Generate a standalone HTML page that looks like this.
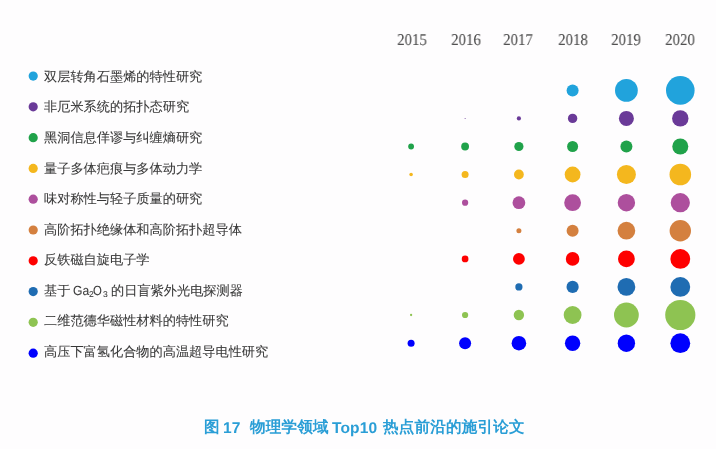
<!DOCTYPE html>
<html><head><meta charset="utf-8">
<style>
html,body{margin:0;padding:0;background:#fefdfe;}
.lab,.yr,.title{will-change:transform;}
body{width:716px;height:449px;position:relative;overflow:hidden;text-rendering:geometricPrecision;font-family:"Liberation Sans",sans-serif;}
svg{position:absolute;left:0;top:0;}
.lab{position:absolute;left:44.4px;height:20px;line-height:20px;font-size:13.2px;color:#383838;-webkit-text-stroke:0.08px #383838;white-space:nowrap;}
.sx{display:inline-block;transform-origin:0 0;}
.lab.sb{font-size:8.5px;}
.yr{position:absolute;top:29.5px;width:60px;text-align:center;font-family:"Liberation Serif",serif;font-size:16.5px;color:#505050;-webkit-text-stroke:0.1px #505050;line-height:20px;transform:scaleX(0.9);}
.title{position:absolute;left:203.8px;top:418.3px;font-size:15.55px;font-weight:bold;letter-spacing:0.2px;color:#2a9ed6;white-space:nowrap;line-height:20px;}
.title.l{letter-spacing:0.1px;font-weight:bold;top:419px;}
</style></head><body>
<svg width="716" height="449" viewBox="0 0 716 449"><circle cx="33.2" cy="76.05" r="4.6" fill="#21a3dc"/><circle cx="33.2" cy="106.84" r="4.6" fill="#6a3a98"/><circle cx="33.2" cy="137.63" r="4.6" fill="#20a24a"/><circle cx="33.2" cy="168.42" r="4.6" fill="#f4b71e"/><circle cx="33.2" cy="199.21" r="4.6" fill="#ad4f9d"/><circle cx="33.2" cy="230.00" r="4.6" fill="#d4803f"/><circle cx="33.2" cy="260.79" r="4.6" fill="#fe0000"/><circle cx="33.2" cy="291.58" r="4.6" fill="#1f6cb2"/><circle cx="33.2" cy="322.37" r="4.6" fill="#8ec352"/><circle cx="33.2" cy="353.16" r="4.6" fill="#0000fe"/><circle cx="572.6" cy="90.4" r="6.0" fill="#21a3dc"/><circle cx="626.4" cy="90.4" r="11.4" fill="#21a3dc"/><circle cx="680.3" cy="90.4" r="14.3" fill="#21a3dc"/><circle cx="465.1" cy="118.4" r="0.5" fill="#6a3a98"/><circle cx="518.9" cy="118.4" r="2.1" fill="#6a3a98"/><circle cx="572.6" cy="118.4" r="4.7" fill="#6a3a98"/><circle cx="626.4" cy="118.4" r="7.5" fill="#6a3a98"/><circle cx="680.3" cy="118.4" r="8.2" fill="#6a3a98"/><circle cx="411.1" cy="146.5" r="2.9" fill="#20a24a"/><circle cx="465.1" cy="146.5" r="3.9" fill="#20a24a"/><circle cx="518.9" cy="146.5" r="4.6" fill="#20a24a"/><circle cx="572.6" cy="146.5" r="5.5" fill="#20a24a"/><circle cx="626.4" cy="146.5" r="6.0" fill="#20a24a"/><circle cx="680.3" cy="146.5" r="8.0" fill="#20a24a"/><circle cx="411.1" cy="174.5" r="1.8" fill="#f4b71e"/><circle cx="465.1" cy="174.5" r="3.5" fill="#f4b71e"/><circle cx="518.9" cy="174.5" r="4.9" fill="#f4b71e"/><circle cx="572.6" cy="174.5" r="7.9" fill="#f4b71e"/><circle cx="626.4" cy="174.5" r="9.5" fill="#f4b71e"/><circle cx="680.3" cy="174.5" r="10.8" fill="#f4b71e"/><circle cx="465.1" cy="202.7" r="3.1" fill="#ad4f9d"/><circle cx="518.9" cy="202.7" r="6.4" fill="#ad4f9d"/><circle cx="572.6" cy="202.7" r="8.4" fill="#ad4f9d"/><circle cx="626.4" cy="202.7" r="8.7" fill="#ad4f9d"/><circle cx="680.3" cy="202.7" r="9.6" fill="#ad4f9d"/><circle cx="518.9" cy="230.7" r="2.5" fill="#d4803f"/><circle cx="572.6" cy="230.7" r="6.0" fill="#d4803f"/><circle cx="626.4" cy="230.7" r="8.85" fill="#d4803f"/><circle cx="680.3" cy="230.7" r="10.7" fill="#d4803f"/><circle cx="465.1" cy="258.9" r="3.35" fill="#fe0000"/><circle cx="518.9" cy="258.9" r="5.9" fill="#fe0000"/><circle cx="572.6" cy="258.9" r="6.8" fill="#fe0000"/><circle cx="626.4" cy="258.9" r="8.4" fill="#fe0000"/><circle cx="680.3" cy="258.9" r="9.9" fill="#fe0000"/><circle cx="518.9" cy="286.9" r="3.6" fill="#1f6cb2"/><circle cx="572.6" cy="286.9" r="6.1" fill="#1f6cb2"/><circle cx="626.4" cy="286.9" r="8.9" fill="#1f6cb2"/><circle cx="680.3" cy="286.9" r="9.9" fill="#1f6cb2"/><circle cx="411.1" cy="315.0" r="1.15" fill="#8ec352"/><circle cx="465.1" cy="315.0" r="3.1" fill="#8ec352"/><circle cx="518.9" cy="315.0" r="5.2" fill="#8ec352"/><circle cx="572.6" cy="315.0" r="8.9" fill="#8ec352"/><circle cx="626.4" cy="315.0" r="12.4" fill="#8ec352"/><circle cx="680.3" cy="315.0" r="15.1" fill="#8ec352"/><circle cx="411.1" cy="343.2" r="3.5" fill="#0000fe"/><circle cx="465.1" cy="343.2" r="6.0" fill="#0000fe"/><circle cx="518.9" cy="343.2" r="7.3" fill="#0000fe"/><circle cx="572.6" cy="343.2" r="7.7" fill="#0000fe"/><circle cx="626.4" cy="343.2" r="8.7" fill="#0000fe"/><circle cx="680.3" cy="343.2" r="9.9" fill="#0000fe"/></svg>
<div class="lab" style="top:66.85px">双层转角石墨烯的特性研究</div><div class="lab" style="top:97.41px">非厄米系统的拓扑态研究</div><div class="lab" style="top:127.97px">黑洞信息佯谬与纠缠熵研究</div><div class="lab" style="top:158.53px">量子多体疤痕与多体动力学</div><div class="lab" style="top:189.09px">味对称性与轻子质量的研究</div><div class="lab" style="top:219.65px">高阶拓扑绝缘体和高阶拓扑超导体</div><div class="lab" style="top:250.21px">反铁磁自旋电子学</div><div class="lab" style="top:280.77px">基于</div><div class="lab" style="top:311.33px">二维范德华磁性材料的特性研究</div><div class="lab" style="top:341.89px">高压下富氢化合物的高温超导电性研究</div>
<div class="yr" style="left:382.10px">2015</div><div class="yr" style="left:435.80px">2016</div><div class="yr" style="left:488.45px">2017</div><div class="yr" style="left:542.70px">2018</div><div class="yr" style="left:595.75px">2019</div><div class="yr" style="left:649.75px">2020</div>
<div class="lab" style="top:280.77px;left:73.3px"><span class="sx" style="transform:scaleX(0.92)">Ga</span></div><div class="lab sb" style="top:284.47px;left:88.8px">2</div><div class="lab" style="top:280.77px;left:92.6px"><span class="sx" style="transform:scaleX(0.86)">O</span></div><div class="lab sb" style="top:284.47px;left:102.9px">3</div><div class="lab" style="top:280.77px;left:111.2px">的日盲紫外光电探测器</div>
<div class="title" style="left:203.5px">图</div><div class="title l" style="left:223.3px">17</div><div class="title" style="left:250.0px">物理学领域</div><div class="title l" style="left:332.4px">Top10</div><div class="title" style="left:383.1px">热点前沿的施引论文</div>
</body></html>
